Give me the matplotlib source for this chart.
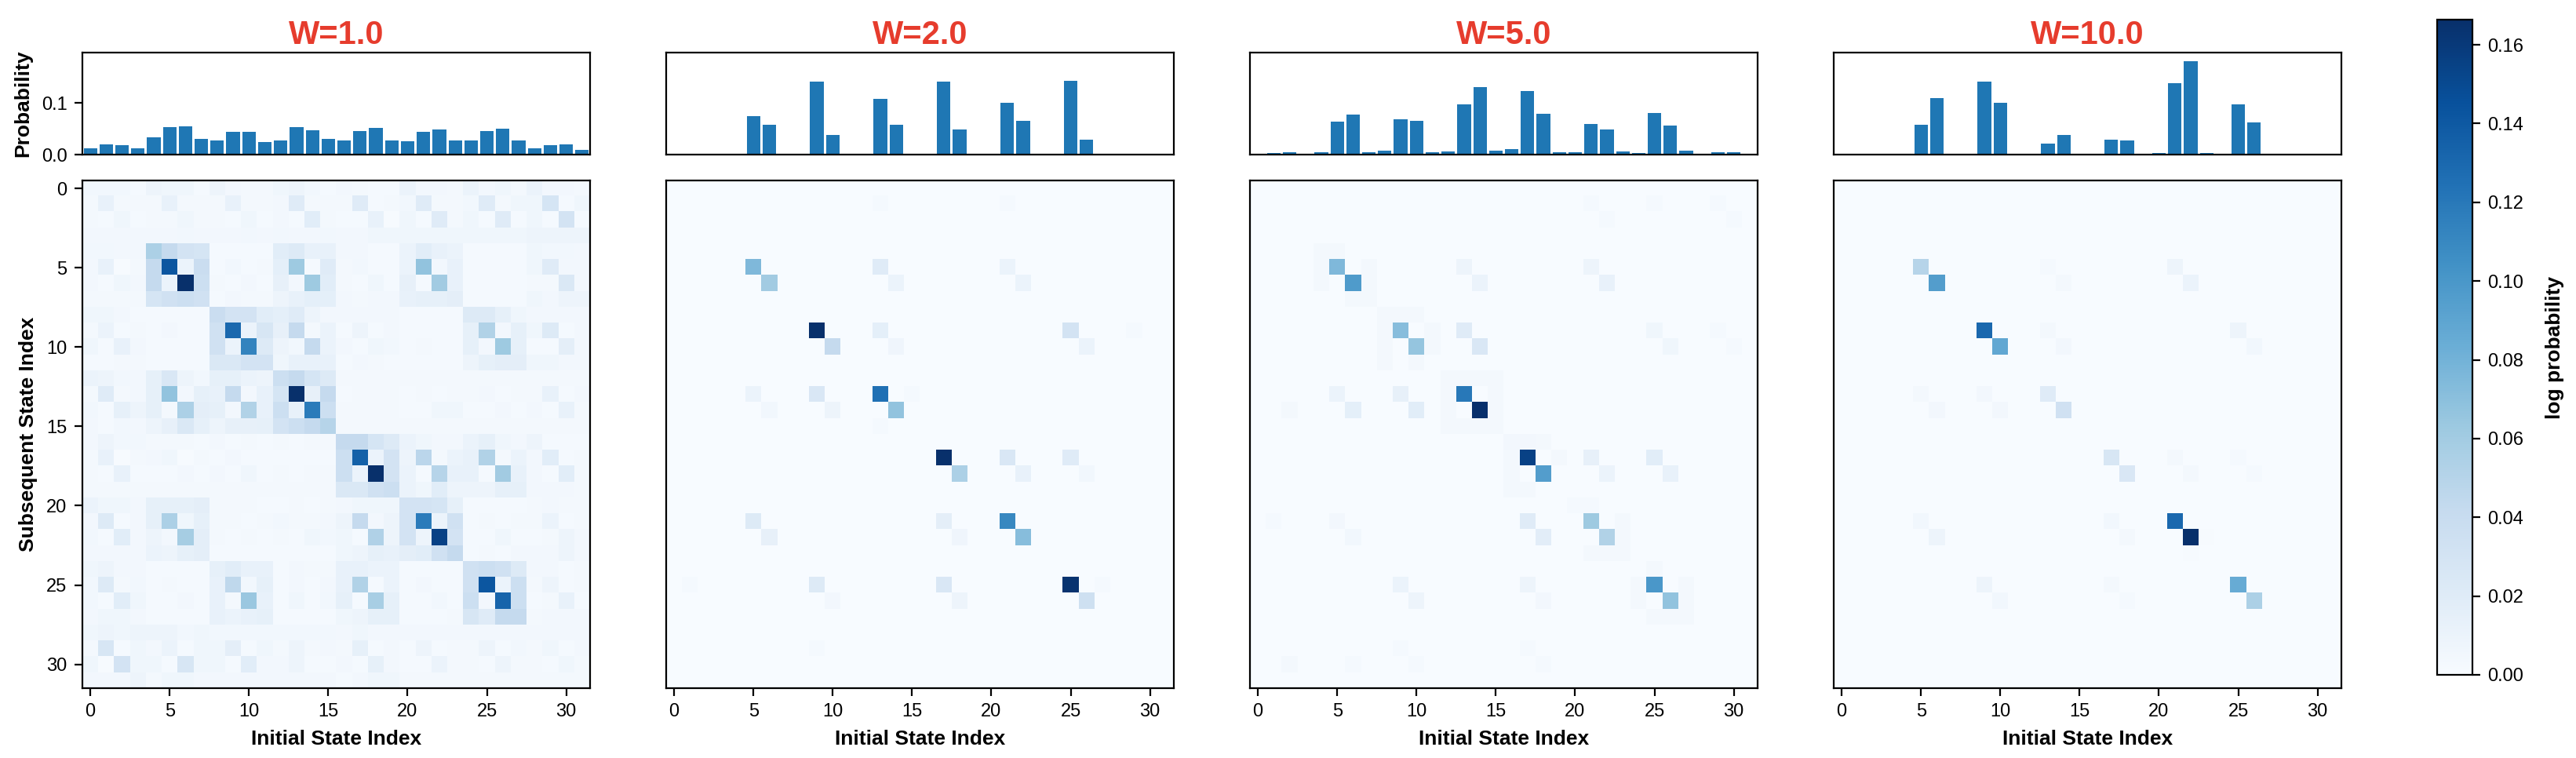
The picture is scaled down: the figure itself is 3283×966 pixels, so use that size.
"""Transition heatmaps with marginal probability bars for several W values"""

import matplotlib
matplotlib.use("Agg")
import matplotlib.pyplot as plt
import numpy as np

plt.rcParams["font.family"] = ["Liberation Sans", "DejaVu Sans"]

# Panel titles
w_labels = ["W=1.0", "W=2.0", "W=5.0", "W=10.0"]
n_states = 32

# Marginal probabilities (bar charts on top)
bars_w1 = [0.0116, 0.0192, 0.0177, 0.0116, 0.0328, 0.0525, 0.054, 0.0298,
           0.0268, 0.0434, 0.0434, 0.0237, 0.0268, 0.0525, 0.0465, 0.0298,
           0.0268, 0.045, 0.051, 0.0268, 0.0253, 0.0434, 0.048, 0.0268,
           0.0268, 0.045, 0.0495, 0.0268, 0.0116, 0.0177, 0.0192, 0.0086]
bars_w2 = [0, 0.0015, 0, 0, 0, 0.0737, 0.0571, 0, 0, 0.1404, 0.0374, 0, 0,
           0.107, 0.0571, 0, 0, 0.1404, 0.048, 0, 0, 0.0995, 0.0646, 0, 0,
           0.142, 0.0283, 0, 0, 0.0015, 0.0015, 0]
bars_w5 = [0, 0.0025, 0.004, 0, 0.004, 0.063, 0.0768, 0.004, 0.007, 0.0677,
           0.0646, 0.004, 0.0056, 0.0965, 0.13, 0.007, 0.0101, 0.1222, 0.0783,
           0.004, 0.004, 0.0586, 0.048, 0.0056, 0.0025, 0.0798, 0.0556, 0.007,
           0, 0.004, 0.004, 0]
bars_w10 = [0, 0, 0, 0, 0, 0.0571, 0.1086, 0, 0, 0.1404, 0.0995, 0, 0, 0.0207,
            0.0374, 0, 0, 0.0283, 0.0268, 0, 0.0025, 0.1374, 0.1798, 0.0025, 0,
            0.0965, 0.0616, 0, 0, 0, 0, 0]

# W=1.0 heatmap, full matrix in units of 1e-3 (rows = subsequent, cols = initial)
heat_w1 = [
    [5, 5, 5, 2, 8, 6, 6, 2, 8, 4, 3, 3, 6, 8, 5, 2, 4, 3, 2, 2, 10, 4, 4, 3, 10, 4, 6, 3, 10, 4, 4, 3],
    [3, 12, 3, 3, 3, 12, 3, 3, 3, 12, 3, 3, 4, 20, 3, 3, 3, 20, 2, 3, 5, 20, 3, 3, 5, 20, 3, 6, 6, 28, 2, 6],
    [3, 2, 6, 2, 3, 3, 6, 3, 3, 2, 6, 2, 4, 2, 18, 3, 2, 2, 12, 1, 6, 2, 20, 3, 6, 2, 20, 2, 6, 2, 30, 2],
    [4, 4, 4, 4, 4, 4, 5, 4, 4, 4, 5, 4, 5, 4, 4, 5, 4, 4, 6, 6, 6, 6, 6, 6, 6, 6, 6, 6, 8, 8, 8, 8],
    [5, 5, 4, 4, 55, 42, 30, 28, 2, 2, 2, 2, 18, 22, 12, 12, 4, 4, 2, 2, 10, 18, 12, 10, 2, 2, 2, 2, 6, 5, 5, 4],
    [4, 12, 1, 3, 42, 142, 10, 38, 2, 5, 2, 3, 15, 62, 2, 20, 3, 5, 2, 2, 10, 67, 5, 12, 2, 2, 2, 2, 6, 20, 4, 4],
    [4, 2, 6, 4, 42, 10, 166, 36, 3, 2, 4, 2, 13, 4, 62, 18, 3, 2, 6, 2, 13, 2, 60, 12, 2, 2, 2, 2, 3, 3, 24, 4],
    [3, 3, 3, 3, 28, 33, 36, 33, 2, 4, 3, 3, 8, 12, 15, 15, 4, 3, 4, 4, 12, 14, 14, 16, 2, 2, 2, 2, 6, 4, 8, 8],
    [6, 6, 4, 2, 2, 2, 2, 2, 38, 30, 30, 18, 15, 20, 8, 4, 4, 4, 4, 4, 2, 2, 2, 2, 22, 22, 14, 6, 4, 4, 4, 4],
    [3, 10, 2, 3, 2, 4, 2, 2, 33, 130, 10, 27, 13, 42, 3, 10, 2, 8, 2, 4, 2, 2, 2, 2, 14, 52, 4, 14, 6, 22, 2, 4],
    [6, 2, 12, 4, 2, 2, 2, 2, 33, 10, 113, 22, 8, 5, 42, 10, 4, 2, 6, 5, 2, 3, 2, 2, 14, 4, 62, 14, 2, 2, 16, 4],
    [2, 2, 3, 3, 2, 2, 2, 2, 24, 24, 30, 30, 6, 12, 12, 12, 2, 4, 3, 2, 2, 2, 2, 2, 8, 14, 16, 16, 6, 6, 4, 4],
    [10, 8, 5, 4, 14, 25, 8, 5, 14, 14, 10, 8, 36, 42, 28, 22, 3, 3, 3, 3, 3, 3, 3, 3, 3, 3, 3, 3, 3, 3, 3, 3],
    [3, 20, 3, 4, 14, 67, 4, 14, 12, 42, 4, 12, 28, 166, 13, 42, 2, 3, 3, 3, 2, 3, 2, 3, 3, 4, 2, 3, 3, 12, 2, 4],
    [5, 2, 14, 8, 14, 3, 55, 16, 14, 4, 52, 12, 36, 12, 118, 36, 3, 3, 3, 3, 2, 2, 6, 6, 2, 2, 4, 2, 4, 2, 12, 3],
    [4, 2, 5, 4, 8, 13, 24, 14, 8, 13, 13, 14, 30, 36, 42, 50, 3, 3, 3, 3, 3, 3, 3, 3, 3, 3, 3, 3, 3, 3, 3, 3],
    [4, 8, 5, 5, 3, 3, 3, 2, 4, 2, 3, 2, 3, 2, 3, 3, 42, 42, 28, 22, 10, 6, 4, 4, 10, 14, 6, 4, 8, 2, 2, 2],
    [3, 12, 1, 3, 4, 6, 1, 3, 2, 4, 2, 2, 2, 2, 2, 2, 36, 135, 10, 30, 8, 47, 3, 10, 12, 52, 3, 10, 4, 18, 2, 3],
    [3, 2, 12, 2, 2, 2, 4, 2, 4, 2, 6, 2, 3, 2, 3, 3, 36, 10, 166, 30, 10, 2, 50, 12, 12, 2, 60, 12, 4, 2, 18, 3],
    [3, 3, 3, 3, 3, 3, 3, 3, 3, 3, 3, 3, 3, 3, 3, 3, 24, 24, 33, 36, 10, 6, 18, 8, 8, 8, 14, 14, 4, 4, 4, 3],
    [10, 6, 6, 4, 14, 14, 14, 16, 3, 3, 3, 2, 2, 3, 2, 3, 4, 6, 6, 6, 30, 30, 28, 14, 2, 2, 2, 2, 3, 4, 3, 3],
    [4, 22, 2, 4, 14, 55, 6, 14, 3, 3, 2, 3, 5, 3, 3, 4, 8, 42, 4, 8, 30, 118, 10, 33, 2, 3, 2, 3, 3, 10, 2, 3],
    [5, 2, 18, 4, 8, 4, 58, 16, 3, 2, 3, 2, 3, 2, 6, 5, 6, 2, 53, 8, 30, 8, 155, 30, 2, 2, 6, 2, 2, 3, 8, 4],
    [4, 4, 4, 4, 10, 8, 14, 16, 2, 2, 2, 2, 2, 2, 2, 2, 6, 8, 14, 12, 16, 18, 33, 42, 2, 3, 2, 4, 4, 4, 8, 4],
    [6, 8, 4, 4, 2, 2, 2, 2, 14, 18, 12, 12, 2, 4, 3, 3, 12, 12, 10, 10, 2, 2, 2, 2, 33, 36, 33, 22, 4, 4, 2, 3],
    [5, 22, 3, 5, 2, 3, 2, 2, 12, 45, 5, 14, 2, 4, 2, 4, 12, 52, 2, 10, 2, 4, 2, 2, 33, 142, 10, 36, 3, 8, 2, 3],
    [5, 2, 18, 6, 2, 2, 4, 2, 12, 3, 64, 12, 2, 6, 2, 5, 14, 2, 57, 14, 2, 2, 5, 2, 36, 4, 133, 36, 2, 3, 12, 2],
    [4, 6, 6, 4, 2, 2, 2, 2, 12, 10, 12, 14, 2, 2, 2, 2, 6, 8, 14, 14, 2, 2, 2, 3, 26, 20, 42, 42, 3, 4, 4, 4],
    [6, 8, 6, 8, 8, 8, 5, 6, 5, 5, 5, 5, 5, 5, 5, 5, 4, 6, 4, 4, 4, 4, 4, 4, 4, 4, 4, 4, 4, 4, 4, 4],
    [3, 26, 2, 6, 4, 10, 2, 6, 6, 16, 2, 6, 3, 8, 3, 4, 3, 14, 2, 4, 2, 8, 2, 3, 3, 8, 2, 5, 3, 6, 2, 4],
    [6, 1, 30, 6, 6, 2, 26, 6, 6, 2, 18, 4, 4, 8, 2, 2, 4, 2, 14, 4, 2, 2, 10, 3, 3, 2, 8, 3, 3, 2, 6, 3],
    [4, 4, 4, 8, 3, 6, 6, 4, 4, 4, 4, 4, 4, 4, 4, 4, 2, 4, 6, 6, 3, 3, 3, 3, 3, 3, 3, 3, 3, 3, 3, 3],
]

# Sparse heatmaps for the other W values: (row, col, value x 1e-3), rest is ~0
cells_w2 = [
    (1, 13, 2), (1, 21, 2),
    (5, 5, 75), (6, 6, 60), (5, 13, 20), (6, 14, 10), (5, 21, 10), (6, 22, 10),
    (9, 9, 166), (10, 10, 42), (9, 13, 15), (10, 14, 7), (9, 25, 30), (10, 26, 10), (9, 29, 2),
    (13, 5, 10), (14, 6, 5), (13, 9, 25), (14, 10, 8), (13, 13, 125), (14, 14, 67),
    (13, 15, 2), (15, 13, 2),
    (17, 17, 166), (18, 18, 55), (17, 21, 25), (18, 22, 12), (17, 25, 20), (18, 26, 5),
    (21, 5, 22), (22, 6, 13), (21, 17, 16), (22, 18, 7), (21, 21, 110), (22, 22, 72),
    (25, 1, 2), (25, 9, 22), (26, 10, 4), (25, 17, 25), (26, 18, 8), (25, 25, 164),
    (26, 26, 35), (25, 27, 2),
    (29, 9, 2),
]
cells_w5 = [
    (1, 21, 2), (1, 25, 2), (1, 29, 2), (2, 22, 2), (2, 30, 2),
    (4, 4, 3), (4, 5, 3), (5, 4, 3), (6, 4, 3), (5, 7, 3), (6, 7, 3), (7, 6, 3), (7, 7, 3),
    (5, 5, 75), (6, 6, 97), (5, 13, 8), (6, 14, 10), (5, 21, 8), (6, 22, 12),
    (8, 8, 3), (8, 9, 3), (8, 10, 3), (9, 8, 3), (10, 8, 3), (11, 8, 3), (9, 11, 3),
    (10, 11, 3), (11, 10, 3),
    (9, 9, 72), (10, 10, 66), (9, 13, 20), (10, 14, 25), (9, 25, 6), (10, 26, 6),
    (9, 29, 2), (10, 30, 2),
    (12, 12, 3), (12, 13, 3), (12, 14, 3), (12, 15, 3), (13, 12, 3), (14, 12, 3),
    (13, 15, 3), (14, 15, 3), (15, 12, 3), (15, 13, 3), (15, 14, 3), (15, 15, 3),
    (13, 13, 120), (14, 14, 166), (13, 5, 10), (14, 6, 15), (13, 9, 13), (14, 10, 18),
    (14, 2, 3),
    (16, 16, 4), (16, 17, 4), (16, 18, 3), (17, 16, 3), (18, 16, 3), (17, 19, 3),
    (19, 16, 3), (19, 17, 3),
    (17, 17, 155), (18, 18, 95), (17, 21, 13), (18, 22, 10), (17, 25, 18), (18, 26, 12),
    (20, 20, 2), (20, 21, 2),
    (21, 1, 2), (21, 5, 4), (22, 6, 5), (21, 17, 20), (22, 18, 17), (21, 21, 62),
    (22, 22, 52), (21, 23, 3), (22, 23, 3), (23, 21, 3), (23, 22, 3), (23, 23, 3),
    (24, 25, 3), (25, 9, 10), (26, 10, 8), (25, 17, 8), (26, 18, 4), (25, 25, 100),
    (26, 26, 67), (25, 27, 3), (26, 27, 3), (27, 25, 3), (27, 26, 3), (27, 27, 3),
    (25, 24, 3), (26, 24, 3),
    (29, 9, 2), (29, 17, 2), (30, 2, 3), (30, 6, 2), (30, 10, 2), (30, 18, 2),
]
cells_w10 = [
    (5, 5, 50), (6, 6, 95), (5, 13, 2), (6, 14, 3), (5, 21, 8), (6, 22, 10),
    (9, 9, 130), (10, 10, 88), (9, 13, 3), (10, 14, 4), (9, 25, 8), (10, 26, 5),
    (13, 5, 3), (14, 6, 4), (13, 9, 4), (14, 10, 4), (13, 13, 20), (14, 14, 33),
    (17, 17, 27), (18, 18, 25), (17, 21, 3), (18, 22, 3), (17, 25, 2), (18, 26, 2),
    (21, 5, 5), (22, 6, 8), (21, 17, 5), (22, 18, 3), (21, 21, 130), (22, 22, 166),
    (22, 23, 1), (23, 22, 1),
    (25, 9, 8), (26, 10, 5), (25, 17, 3), (26, 18, 2), (25, 25, 85), (26, 26, 55),
]

cbar_ticks = [0.0, 0.02, 0.04, 0.06, 0.08, 0.10, 0.12, 0.14, 0.16]
vmax = 0.1664


def sparse_matrix(cells):
    """Builds a 32x32 matrix from (row, col, value) entries given in 1e-3 units."""
    mat = np.zeros((n_states, n_states))
    for r, c, v in cells:
        mat[r, c] = v / 1000.0
    return mat


heatmaps = [np.array(heat_w1) / 1000.0, sparse_matrix(cells_w2),
            sparse_matrix(cells_w5), sparse_matrix(cells_w10)]
bar_values = [bars_w1, bars_w2, bars_w5, bars_w10]

W, H = 3283, 966
fig = plt.figure(figsize=(W / 200, H / 200), dpi=200)

im = None
for i, (title, mat, bars) in enumerate(zip(w_labels, heatmaps, bar_values)):
    left = (105 + 744 * i) / W
    width = 647 / W

    # bar chart of marginal probabilities
    ax_bar = fig.add_axes([left, 1 - 197 / H, width, 130 / H])
    ax_bar.bar(range(n_states), bars, width=0.85, color="#1f77b4")
    ax_bar.set_xlim(-0.5, n_states - 0.5)
    ax_bar.set_ylim(0, 0.197)
    ax_bar.set_xticks([])
    ax_bar.set_title(title, color="#e63c2d", fontsize=15, fontweight="bold", pad=4)
    if i == 0:
        ax_bar.set_yticks([0.0, 0.1])
        ax_bar.tick_params(labelsize=8.5)
        ax_bar.set_ylabel("Probability", fontsize=9.5, fontweight="bold")
    else:
        ax_bar.set_yticks([])

    # transition heatmap
    ax_hm = fig.add_axes([left, 1 - 877 / H, width, 647 / H])
    im = ax_hm.imshow(mat, cmap="Blues", vmin=0, vmax=vmax,
                      interpolation="nearest", aspect="auto")
    ax_hm.set_xticks(range(0, n_states, 5))
    ax_hm.tick_params(labelsize=8.5)
    ax_hm.set_xlabel("Initial State Index", fontsize=9.5, fontweight="bold")
    if i == 0:
        ax_hm.set_yticks(range(0, n_states, 5))
        ax_hm.set_ylabel("Subsequent State Index", fontsize=9.5, fontweight="bold")
    else:
        ax_hm.set_yticks([])

# shared colorbar
cax = fig.add_axes([3106 / W, 1 - 860 / H, 45 / W, 835 / H])
cbar = fig.colorbar(im, cax=cax, ticks=cbar_ticks, format="%.2f")
cbar.ax.tick_params(labelsize=8.5)
cbar.set_label("log probability", fontsize=9.5, fontweight="bold", labelpad=10)

fig.savefig("out.png", dpi=200)
